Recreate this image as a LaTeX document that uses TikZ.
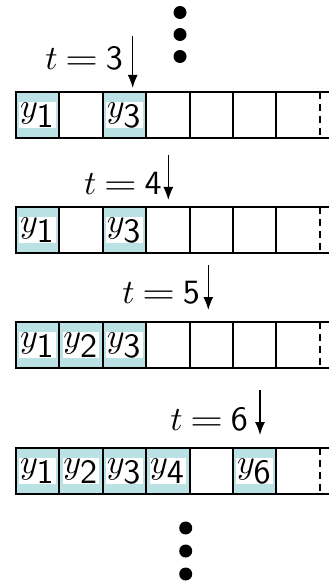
\documentclass[tikz,border=0pt]{standalone}
\usepackage{graphicx}
\usetikzlibrary{arrows.meta}
\definecolor{cellcol}{RGB}{186,225,228}
\newcommand{\mybig}[1]{\scalebox{3.4}{$#1$}}
\newcommand{\teq}[1]{\mybig{t\mkern4mu\scalebox{1.25}[1]{$=$}\mkern4mu\mathsf{#1}}}
\begin{document}
\begin{tikzpicture}[x=1pt,y=-1pt,
  cellbox/.style={draw,line width=2pt,minimum width=43.4pt,minimum height=46pt,inner sep=0pt,outer sep=0pt},
  ylab/.style={fill=white,inner sep=0.6pt},
  filled/.style={cellbox,fill=cellcol,label={[ylab]center:\mybig{y_{\textstyle\mathsf{#1}}}}},
  tlab/.style={anchor=east,inner sep=0pt},
  ptr/.style={line width=1.3pt,-{Latex[length=13pt,width=10pt]}},
  edge/.style={line width=2pt},
  dashedge/.style={line width=2pt,dash pattern=on 7pt off 5pt},
  bigdot/.style={circle,fill=black,minimum size=13pt,inner sep=0pt}]
\useasboundingbox (0,0) rectangle (329,585);

% top dots
\node[bigdot] (d1) at (180,12.5) {};
\node[bigdot] (d2) at (180,34.5) {};
\node[bigdot] (d3) at (180,56.5) {};

% row 1
\node[filled=1] (r1c1) at (37.7,115) {};
\node[cellbox]  (r1c2) at (81.1,115) {};
\node[filled=3] (r1c3) at (124.5,115) {};
\node[cellbox]  (r1c4) at (167.9,115) {};
\node[cellbox]  (r1c5) at (211.3,115) {};
\node[cellbox]  (r1c6) at (254.7,115) {};
\node[cellbox,draw=none] (r1c7) at (298.1,115) {};
\coordinate (r1tr) at (329,92);
\coordinate (r1br) at (329,138);
\draw[edge] (r1c6.north east) -- (r1tr);
\draw[edge] (r1c6.south east) -- (r1br);
\draw[dashedge] (r1c7.north east) -- (r1c7.south east);
\node[tlab] (t3) at (123,58) {\teq{3}};
\coordinate (a1s) at (132.7,36);
\coordinate (a1e) at (132.7,88);
\draw[ptr] (a1s) -- (a1e);

% row 2
\node[filled=1] (r2c1) at (37.7,230) {};
\node[cellbox]  (r2c2) at (81.1,230) {};
\node[filled=3] (r2c3) at (124.5,230) {};
\node[cellbox]  (r2c4) at (167.9,230) {};
\node[cellbox]  (r2c5) at (211.3,230) {};
\node[cellbox]  (r2c6) at (254.7,230) {};
\node[cellbox,draw=none] (r2c7) at (298.1,230) {};
\coordinate (r2tr) at (329,207);
\coordinate (r2br) at (329,253);
\draw[edge] (r2c6.north east) -- (r2tr);
\draw[edge] (r2c6.south east) -- (r2br);
\draw[dashedge] (r2c7.north east) -- (r2c7.south east);
\node[tlab] (t4) at (161.7,183.5) {\teq{4}};
\coordinate (a2s) at (168.3,155);
\coordinate (a2e) at (168.3,200);
\draw[ptr] (a2s) -- (a2e);

% row 3
\node[filled=1] (r3c1) at (37.7,345) {};
\node[filled=2] (r3c2) at (81.1,345) {};
\node[filled=3] (r3c3) at (124.5,345) {};
\node[cellbox]  (r3c4) at (167.9,345) {};
\node[cellbox]  (r3c5) at (211.3,345) {};
\node[cellbox]  (r3c6) at (254.7,345) {};
\node[cellbox,draw=none] (r3c7) at (298.1,345) {};
\coordinate (r3tr) at (329,322);
\coordinate (r3br) at (329,368);
\draw[edge] (r3c6.north east) -- (r3tr);
\draw[edge] (r3c6.south east) -- (r3br);
\draw[dashedge] (r3c7.north east) -- (r3c7.south east);
\node[tlab] (t5) at (200,292.5) {\teq{5}};
\coordinate (a3s) at (208.3,265);
\coordinate (a3e) at (208.3,310);
\draw[ptr] (a3s) -- (a3e);

% row 4
\node[filled=1] (r4c1) at (37.7,471) {};
\node[filled=2] (r4c2) at (81.1,471) {};
\node[filled=3] (r4c3) at (124.5,471) {};
\node[filled=4] (r4c4) at (167.9,471) {};
\node[cellbox]  (r4c5) at (211.3,471) {};
\node[filled=6] (r4c6) at (254.7,471) {};
\node[cellbox,draw=none] (r4c7) at (298.1,471) {};
\coordinate (r4tr) at (329,448);
\coordinate (r4br) at (329,494);
\draw[edge] (r4c6.north east) -- (r4tr);
\draw[edge] (r4c6.south east) -- (r4br);
\draw[dashedge] (r4c7.north east) -- (r4c7.south east);
\node[tlab] (t6) at (248,419) {\teq{6}};
\coordinate (a4s) at (260,390);
\coordinate (a4e) at (260,435);
\draw[ptr] (a4s) -- (a4e);

% bottom dots
\node[bigdot] (d4) at (185.7,528) {};
\node[bigdot] (d5) at (185.7,551) {};
\node[bigdot] (d6) at (185.7,574) {};
\end{tikzpicture}
\end{document}
